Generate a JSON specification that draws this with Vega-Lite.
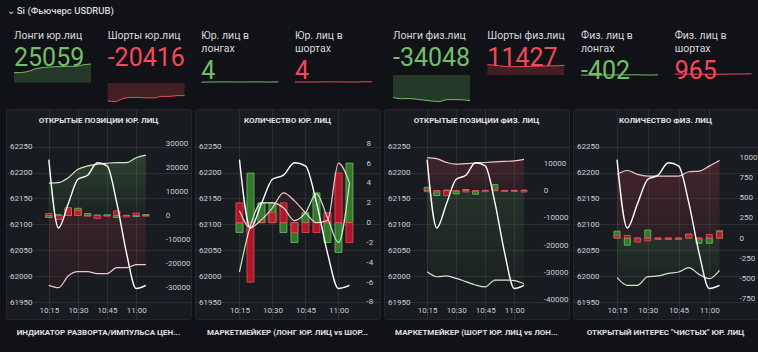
{
"$schema": "https://vega.github.io/schema/vega-lite/v6.json",
"background": "#111217",
"padding": {"left": 5, "top": 6, "right": 1, "bottom": 0},
"title": {"text": "⌄ Si (Фьючерс USDRUB)", "anchor": "start", "dx": 1, "offset": 15.7, "font": "Roboto", "fontSize": 9.5, "fontWeight": 500, "color": "#d8d9da"},
"datasets": {
"p1": [
{"t":15,"price":62225,"L":13400,"S":-29030,"dL":-800,"dS":800},
{"t":20,"price":62093,"L":13650,"S":-30000,"dL":300,"dS":-1600},
{"t":25,"price":62140,"L":15700,"S":-25150,"dL":3000,"dS":3300},
{"t":30,"price":62187,"L":19200,"S":-23350,"dL":3000,"dS":2100},
{"t":35,"price":62195,"L":20600,"S":-23350,"dL":800,"dS":-300},
{"t":40,"price":62219,"L":21300,"S":-24180,"dL":200,"dS":-1200},
{"t":45,"price":62213,"L":21700,"S":-24180,"dL":300,"dS":-300},
{"t":50,"price":62142,"L":22000,"S":-21700,"dL":-800,"dS":1900},
{"t":55,"price":62045,"L":22000,"S":-21700,"dL":100,"dS":-600},
{"t":60,"price":61976,"L":24000,"S":-20440,"dL":-400,"dS":1000},
{"t":65,"price":61982,"L":25059,"S":-20416,"dL":400,"dS":-300}
],
"p2": [
{"t":15,"price":62225,"G":-5,"P":1.2,"dG":-1,"dR":2},
{"t":20,"price":62093,"G":-0.3,"P":-0.5,"dG":5,"dR":-6},
{"t":25,"price":62140,"G":2,"P":0.3,"dG":2,"dR":0},
{"t":30,"price":62187,"G":2,"P":1.5,"dG":2,"dR":1},
{"t":35,"price":62195,"G":1.5,"P":3,"dG":-1,"dR":2},
{"t":40,"price":62219,"G":0.2,"P":2.2,"dG":-2,"dR":-1},
{"t":45,"price":62213,"G":1,"P":1,"dG":1,"dR":-1},
{"t":50,"price":62142,"G":2.9,"P":0,"dG":3,"dR":-1},
{"t":55,"price":62045,"G":0.5,"P":0.2,"dG":-2,"dR":1},
{"t":60,"price":61976,"G":-2,"P":6,"dG":-3,"dR":5},
{"t":65,"price":61982,"G":4,"P":4,"dG":6,"dR":-2}
],
"p3": [
{"t":15,"price":62225,"S":12100,"L":-29700,"dG":1200,"dR":-400},
{"t":20,"price":62093,"S":11700,"L":-31500,"dG":-1800,"dR":-500},
{"t":25,"price":62140,"S":10300,"L":-31200,"dG":200,"dR":-1800},
{"t":30,"price":62187,"S":9700,"L":-32100,"dG":-1200,"dR":-300},
{"t":35,"price":62195,"S":9900,"L":-33300,"dG":400,"dR":-500},
{"t":40,"price":62219,"S":10100,"L":-34500,"dG":-1300,"dR":-300},
{"t":45,"price":62213,"S":10300,"L":-35200,"dG":100,"dR":-400},
{"t":50,"price":62142,"S":10500,"L":-32700,"dG":2200,"dR":200},
{"t":55,"price":62045,"S":10700,"L":-32700,"dG":100,"dR":-300},
{"t":60,"price":61976,"S":10900,"L":-32900,"dG":100,"dR":-300},
{"t":65,"price":61982,"S":11427,"L":-34048,"dG":200,"dR":-500}
],
"p4": [
{"t":15,"price":62225,"S":792,"G":-493,"dG":85,"dR":35},
{"t":20,"price":62093,"S":841,"G":-588,"dG":-90,"dR":33},
{"t":25,"price":62140,"S":792,"G":-588,"dG":-15,"dR":-50},
{"t":30,"price":62187,"S":771,"G":-481,"dG":100,"dR":-35},
{"t":35,"price":62195,"S":771,"G":-472,"dG":-15,"dR":-15},
{"t":40,"price":62219,"S":771,"G":-439,"dG":-15,"dR":-15},
{"t":45,"price":62213,"S":771,"G":-423,"dG":-15,"dR":-15},
{"t":50,"price":62142,"S":825,"G":-369,"dG":50,"dR":45},
{"t":55,"price":62045,"S":833,"G":-452,"dG":-65,"dR":-15},
{"t":60,"price":61976,"S":895,"G":-506,"dG":-65,"dR":45},
{"t":65,"price":61982,"S":965,"G":-402,"dG":90,"dR":80}
]
},
"spacing": 4,
"vconcat": [
{"hconcat": [
  {"width": 85, "height": 42, "view": {"fill": null, "stroke": null}, "data": {"name": "p1"},
   "title": {"text": "Лонги юр.лиц", "subtitle": "25059", "subtitleColor": "#73BF69", "dx": 8, "offset": -10.6, "anchor": "start", "frame": "group", "font": "Roboto", "fontSize": 10.5, "fontWeight": "normal", "color": "#d8d9da", "subtitleFont": "Roboto", "subtitleFontSize": 25, "subtitleFontWeight": "normal", "subtitlePadding": 3.7, "lineHeight": 13, "limit": 400},
   "mark": {"type": "area", "interpolate": "monotone", "color": "#73BF69", "fillOpacity": 0.22, "line": {"color": "#73BF69", "strokeWidth": 1}},
   "encoding": {"x": {"field": "t", "type": "quantitative", "scale": {"domain": [9.805, 65], "nice": false, "zero": false}, "axis": null},
    "y": {"field": "L", "type": "quantitative", "scale": {"domain": [-25871, 30429], "nice": false, "zero": false}, "axis": null}, "y2": {"datum": 0}}},
  {"width": 77, "height": 42, "view": {"fill": null, "stroke": null}, "data": {"name": "p1"},
   "title": {"text": "Шорты юр.лиц", "subtitle": "-20416", "subtitleColor": "#F2495C", "offset": -10.6, "anchor": "start", "frame": "group", "font": "Roboto", "fontSize": 10.5, "fontWeight": "normal", "color": "#d8d9da", "subtitleFont": "Roboto", "subtitleFontSize": 25, "subtitleFontWeight": "normal", "subtitlePadding": 3.7, "lineHeight": 13, "limit": 400},
   "mark": {"type": "area", "interpolate": "monotone", "color": "#F2495C", "fillOpacity": 0.22, "line": {"color": "#F2495C", "strokeWidth": 1}},
   "encoding": {"x": {"field": "t", "type": "quantitative", "scale": {"domain": [15, 65], "nice": false, "zero": false}, "axis": null},
    "y": {"field": "S", "type": "quantitative", "scale": {"domain": [-30794, 37277], "nice": false, "zero": false}, "axis": null}, "y2": {"datum": 0}}},
  {"width": 77, "height": 42, "view": {"fill": null, "stroke": null}, "data": {"name": "p2"},
   "title": {"text": ["Юр. лиц в", "лонгах"], "subtitle": "4", "subtitleColor": "#73BF69", "offset": -23.6, "anchor": "start", "frame": "group", "font": "Roboto", "fontSize": 10.5, "fontWeight": "normal", "color": "#d8d9da", "subtitleFont": "Roboto", "subtitleFontSize": 25, "subtitleFontWeight": "normal", "subtitlePadding": 3.7, "lineHeight": 13, "limit": 400},
   "mark": {"type": "line", "interpolate": "monotone", "color": "#73BF69", "strokeWidth": 1},
   "encoding": {"x": {"field": "t", "type": "quantitative", "scale": {"domain": [15, 65], "nice": false, "zero": false}, "axis": null},
    "y": {"field": "G", "type": "quantitative", "scale": {"domain": [-500, 550], "nice": false, "zero": false}, "axis": null}}},
  {"width": 77, "height": 42, "view": {"fill": null, "stroke": null}, "data": {"name": "p2"},
   "title": {"text": ["Юр. лиц в", "шортах"], "subtitle": "4", "subtitleColor": "#F2495C", "offset": -23.6, "anchor": "start", "frame": "group", "font": "Roboto", "fontSize": 10.5, "fontWeight": "normal", "color": "#d8d9da", "subtitleFont": "Roboto", "subtitleFontSize": 25, "subtitleFontWeight": "normal", "subtitlePadding": 3.7, "lineHeight": 13, "limit": 400},
   "mark": {"type": "line", "interpolate": "monotone", "color": "#F2495C", "strokeWidth": 1},
   "encoding": {"x": {"field": "t", "type": "quantitative", "scale": {"domain": [15, 65], "nice": false, "zero": false}, "axis": null},
    "y": {"field": "P", "type": "quantitative", "scale": {"domain": [-500, 550], "nice": false, "zero": false}, "axis": null}}},
  {"width": 81.33, "height": 42, "view": {"fill": null, "stroke": null}, "data": {"name": "p3"},
   "title": {"text": "Лонги физ.лиц", "subtitle": "-34048", "subtitleColor": "#73BF69", "dx": 4.33, "offset": -10.6, "anchor": "start", "frame": "group", "font": "Roboto", "fontSize": 10.5, "fontWeight": "normal", "color": "#d8d9da", "subtitleFont": "Roboto", "subtitleFontSize": 25, "subtitleFontWeight": "normal", "subtitlePadding": 3.7, "lineHeight": 13, "limit": 400},
   "mark": {"type": "area", "interpolate": "monotone", "color": "#73BF69", "fillOpacity": 0.22, "line": {"color": "#73BF69", "strokeWidth": 1}},
   "encoding": {"x": {"field": "t", "type": "quantitative", "scale": {"domain": [12.19, 65], "nice": false, "zero": false}, "axis": null},
    "y": {"field": "L", "type": "quantitative", "scale": {"domain": [-35857, 19920], "nice": false, "zero": false}, "axis": null}, "y2": {"datum": 0}}},
  {"width": 77, "height": 42, "view": {"fill": null, "stroke": null}, "data": {"name": "p3"},
   "title": {"text": "Шорты физ.лиц", "subtitle": "11427", "subtitleColor": "#F2495C", "offset": -10.6, "anchor": "start", "frame": "group", "font": "Roboto", "fontSize": 10.5, "fontWeight": "normal", "color": "#d8d9da", "subtitleFont": "Roboto", "subtitleFontSize": 25, "subtitleFontWeight": "normal", "subtitlePadding": 3.7, "lineHeight": 13, "limit": 400},
   "mark": {"type": "area", "interpolate": "monotone", "color": "#F2495C", "fillOpacity": 0.22, "line": {"color": "#F2495C", "strokeWidth": 1}},
   "encoding": {"x": {"field": "t", "type": "quantitative", "scale": {"domain": [15, 65], "nice": false, "zero": false}, "axis": null},
    "y": {"field": "S", "type": "quantitative", "scale": {"domain": [-31802, 17668], "nice": false, "zero": false}, "axis": null}, "y2": {"datum": 0}}},
  {"width": 77, "height": 42, "view": {"fill": null, "stroke": null}, "data": {"name": "p4"},
   "title": {"text": ["Физ. лиц в", "лонгах"], "subtitle": "-402", "subtitleColor": "#73BF69", "offset": -23.6, "anchor": "start", "frame": "group", "font": "Roboto", "fontSize": 10.5, "fontWeight": "normal", "color": "#d8d9da", "subtitleFont": "Roboto", "subtitleFontSize": 25, "subtitleFontWeight": "normal", "subtitlePadding": 3.7, "lineHeight": 13, "limit": 400},
   "mark": {"type": "line", "interpolate": "monotone", "color": "#73BF69", "strokeWidth": 1},
   "encoding": {"x": {"field": "t", "type": "quantitative", "scale": {"domain": [15, 65], "nice": false, "zero": false}, "axis": null},
    "y": {"field": "G", "type": "quantitative", "scale": {"domain": [-13980, 7020], "nice": false, "zero": false}, "axis": null}}},
  {"width": 77, "height": 42, "view": {"fill": null, "stroke": null}, "data": {"name": "p4"},
   "title": {"text": ["Физ. лиц в", "шортах"], "subtitle": "965", "subtitleColor": "#F2495C", "offset": -23.6, "anchor": "start", "frame": "group", "font": "Roboto", "fontSize": 10.5, "fontWeight": "normal", "color": "#d8d9da", "subtitleFont": "Roboto", "subtitleFontSize": 25, "subtitleFontWeight": "normal", "subtitlePadding": 3.7, "lineHeight": 13, "limit": 400},
   "mark": {"type": "line", "interpolate": "monotone", "color": "#F2495C", "strokeWidth": 1},
   "encoding": {"x": {"field": "t", "type": "quantitative", "scale": {"domain": [15, 65], "nice": false, "zero": false}, "axis": null},
    "y": {"field": "S", "type": "quantitative", "scale": {"domain": [-13140, 7860], "nice": false, "zero": false}, "axis": null}}}
], "spacing": 16.67, "bounds": "flush"},
{"hconcat": [
 {"width": 185, "height": 210, "data": {"name": "p1"},
  "title": {"text": "ОТКРЫТЫЕ ПОЗИЦИИ ЮР. ЛИЦ", "anchor": "middle", "frame": "group", "offset": -15.5, "font": "Roboto", "fontSize": 8, "fontWeight": "bold", "color": "#e0e0e0", "limit": 400},
  "resolve": {"scale": {"y": "independent"}},
  "layer": [
   {"layer": [
    {"mark": {"type": "area", "interpolate": "monotone", "color": {"gradient": "linear", "x1": 0, "x2": 0, "y1": 0, "y2": 1, "stops": [{"offset": 0, "color": "rgba(115,191,105,0.24)"}, {"offset": 1, "color": "rgba(115,191,105,0.04)"}]}},
     "encoding": {"x": {"field": "t", "type": "quantitative", "scale": {"domain": [-4.5, 85.69], "nice": false, "zero": false}, "axis": {"orient": "bottom", "offset": -12.5, "values": [15, 30, 45, 60], "labelExpr": "datum.value == 60 ? '11:00' : '10:' + datum.value", "labelBaseline": "top", "grid": true, "gridColor": "#ccccdc", "gridOpacity": 0.1, "title": null}},
      "y": {"field": "L", "type": "quantitative", "scale": {"domain": [-43006, 44252], "nice": false, "zero": false}, "axis": {"orient": "right", "offset": -25.7, "values": [-30000, -20000, -10000, 0, 10000, 20000, 30000], "labelExpr": "'' + datum.value", "labelAlign": "left", "grid": false, "title": null}}, "y2": {"datum": 0}}},
    {"mark": {"type": "area", "interpolate": "monotone", "color": {"gradient": "linear", "x1": 0, "x2": 0, "y1": 0, "y2": 1, "stops": [{"offset": 0, "color": "rgba(242,73,92,0.14)"}, {"offset": 1, "color": "rgba(242,73,92,0.05)"}]}},
     "encoding": {"x": {"field": "t", "type": "quantitative", "scale": {"domain": [-4.5, 85.69], "nice": false, "zero": false}, "axis": {"orient": "bottom", "offset": -12.5, "values": [15, 30, 45, 60], "labelExpr": "datum.value == 60 ? '11:00' : '10:' + datum.value", "labelBaseline": "top", "grid": true, "gridColor": "#ccccdc", "gridOpacity": 0.1, "title": null}},
      "y": {"field": "S", "type": "quantitative", "scale": {"domain": [-43006, 44252], "nice": false, "zero": false}, "axis": {"orient": "right", "offset": -25.7, "values": [-30000, -20000, -10000, 0, 10000, 20000, 30000], "labelExpr": "'' + datum.value", "labelAlign": "left", "grid": false, "title": null}}, "y2": {"datum": 0}}},
    {"mark": {"type": "bar", "size": 6.5, "fill": "#37872D", "fillOpacity": 0.85, "stroke": "#73BF69", "strokeWidth": 0.8},
     "encoding": {"x": {"field": "t", "type": "quantitative", "scale": {"domain": [-4.5, 85.69], "nice": false, "zero": false}, "axis": {"orient": "bottom", "offset": -12.5, "values": [15, 30, 45, 60], "labelExpr": "datum.value == 60 ? '11:00' : '10:' + datum.value", "labelBaseline": "top", "grid": true, "gridColor": "#ccccdc", "gridOpacity": 0.1, "title": null}},
      "y": {"field": "dL", "type": "quantitative", "scale": {"domain": [-43006, 44252], "nice": false, "zero": false}, "axis": {"orient": "right", "offset": -25.7, "values": [-30000, -20000, -10000, 0, 10000, 20000, 30000], "labelExpr": "'' + datum.value", "labelAlign": "left", "grid": false, "title": null}}, "y2": {"datum": 0}}},
    {"mark": {"type": "bar", "size": 6.5, "fill": "#C4162A", "fillOpacity": 0.85, "stroke": "#F2495C", "strokeWidth": 0.8},
     "encoding": {"x": {"field": "t", "type": "quantitative", "scale": {"domain": [-4.5, 85.69], "nice": false, "zero": false}, "axis": {"orient": "bottom", "offset": -12.5, "values": [15, 30, 45, 60], "labelExpr": "datum.value == 60 ? '11:00' : '10:' + datum.value", "labelBaseline": "top", "grid": true, "gridColor": "#ccccdc", "gridOpacity": 0.1, "title": null}},
      "y": {"field": "dS", "type": "quantitative", "scale": {"domain": [-43006, 44252], "nice": false, "zero": false}, "axis": {"orient": "right", "offset": -25.7, "values": [-30000, -20000, -10000, 0, 10000, 20000, 30000], "labelExpr": "'' + datum.value", "labelAlign": "left", "grid": false, "title": null}}, "y2": {"datum": 0}}},
    {"mark": {"type": "line", "interpolate": "monotone", "color": "#cfe9c9", "strokeWidth": 1.2},
     "encoding": {"x": {"field": "t", "type": "quantitative", "scale": {"domain": [-4.5, 85.69], "nice": false, "zero": false}, "axis": {"orient": "bottom", "offset": -12.5, "values": [15, 30, 45, 60], "labelExpr": "datum.value == 60 ? '11:00' : '10:' + datum.value", "labelBaseline": "top", "grid": true, "gridColor": "#ccccdc", "gridOpacity": 0.1, "title": null}},
      "y": {"field": "L", "type": "quantitative", "scale": {"domain": [-43006, 44252], "nice": false, "zero": false}, "axis": {"orient": "right", "offset": -25.7, "values": [-30000, -20000, -10000, 0, 10000, 20000, 30000], "labelExpr": "'' + datum.value", "labelAlign": "left", "grid": false, "title": null}}}},
    {"mark": {"type": "line", "interpolate": "monotone", "color": "#f3c6cd", "strokeWidth": 1.2},
     "encoding": {"x": {"field": "t", "type": "quantitative", "scale": {"domain": [-4.5, 85.69], "nice": false, "zero": false}, "axis": {"orient": "bottom", "offset": -12.5, "values": [15, 30, 45, 60], "labelExpr": "datum.value == 60 ? '11:00' : '10:' + datum.value", "labelBaseline": "top", "grid": true, "gridColor": "#ccccdc", "gridOpacity": 0.1, "title": null}},
      "y": {"field": "S", "type": "quantitative", "scale": {"domain": [-43006, 44252], "nice": false, "zero": false}, "axis": {"orient": "right", "offset": -25.7, "values": [-30000, -20000, -10000, 0, 10000, 20000, 30000], "labelExpr": "'' + datum.value", "labelAlign": "left", "grid": false, "title": null}}}}
   ]},
   {"mark": {"type": "line", "interpolate": "monotone", "color": "#ffffff", "strokeWidth": 1.4},
    "encoding": {"x": {"field": "t", "type": "quantitative", "scale": {"domain": [-4.5, 85.69], "nice": false, "zero": false}, "axis": {"orient": "bottom", "offset": -12.5, "values": [15, 30, 45, 60], "labelExpr": "datum.value == 60 ? '11:00' : '10:' + datum.value", "labelBaseline": "top", "grid": true, "gridColor": "#ccccdc", "gridOpacity": 0.1, "title": null}},
     "y": {"field": "price", "type": "quantitative", "scale": {"domain": [61917.2, 62322.8], "nice": false, "zero": false}, "axis": {"orient": "left", "offset": -26, "values": [61950, 62000, 62050, 62100, 62150, 62200, 62250], "labelExpr": "'' + datum.value", "labelAlign": "right", "grid": true, "gridColor": "#ccccdc", "gridOpacity": 0.1, "title": null}}}}
  ]},
 {"width": 185, "height": 210, "data": {"name": "p2"},
  "title": {"text": "КОЛИЧЕСТВО ЮР. ЛИЦ", "anchor": "middle", "frame": "group", "offset": -15.5, "font": "Roboto", "fontSize": 8, "fontWeight": "bold", "color": "#e0e0e0", "limit": 400},
  "resolve": {"scale": {"y": "independent"}},
  "layer": [
   {"layer": [
    {"mark": {"type": "area", "interpolate": "monotone", "color": "#73BF69", "fillOpacity": 0.07},
     "encoding": {"x": {"field": "t", "type": "quantitative", "scale": {"domain": [-2.93, 76.6], "nice": false, "zero": false}, "axis": {"orient": "bottom", "offset": -12.5, "values": [15, 30, 45, 60], "labelExpr": "datum.value == 60 ? '11:00' : '10:' + datum.value", "labelBaseline": "top", "grid": true, "gridColor": "#ccccdc", "gridOpacity": 0.1, "title": null}},
      "y": {"field": "G", "type": "quantitative", "scale": {"domain": [-9.714, 11.458], "nice": false, "zero": false}, "axis": {"orient": "right", "offset": -14, "values": [-8, -6, -4, -2, 0, 2, 4, 6, 8], "labelExpr": "'' + datum.value", "labelAlign": "left", "grid": false, "title": null}}, "y2": {"datum": 0}}},
    {"mark": {"type": "area", "interpolate": "monotone", "color": "#F2495C", "fillOpacity": 0.09},
     "encoding": {"x": {"field": "t", "type": "quantitative", "scale": {"domain": [-2.93, 76.6], "nice": false, "zero": false}, "axis": {"orient": "bottom", "offset": -12.5, "values": [15, 30, 45, 60], "labelExpr": "datum.value == 60 ? '11:00' : '10:' + datum.value", "labelBaseline": "top", "grid": true, "gridColor": "#ccccdc", "gridOpacity": 0.1, "title": null}},
      "y": {"field": "P", "type": "quantitative", "scale": {"domain": [-9.714, 11.458], "nice": false, "zero": false}, "axis": {"orient": "right", "offset": -14, "values": [-8, -6, -4, -2, 0, 2, 4, 6, 8], "labelExpr": "'' + datum.value", "labelAlign": "left", "grid": false, "title": null}}, "y2": {"datum": 0}}},
    {"mark": {"type": "bar", "size": 7, "fill": "#37872D", "fillOpacity": 0.85, "stroke": "#73BF69", "strokeWidth": 0.8},
     "encoding": {"x": {"field": "t", "type": "quantitative", "scale": {"domain": [-2.93, 76.6], "nice": false, "zero": false}, "axis": {"orient": "bottom", "offset": -12.5, "values": [15, 30, 45, 60], "labelExpr": "datum.value == 60 ? '11:00' : '10:' + datum.value", "labelBaseline": "top", "grid": true, "gridColor": "#ccccdc", "gridOpacity": 0.1, "title": null}},
      "y": {"field": "dG", "type": "quantitative", "scale": {"domain": [-9.714, 11.458], "nice": false, "zero": false}, "axis": {"orient": "right", "offset": -14, "values": [-8, -6, -4, -2, 0, 2, 4, 6, 8], "labelExpr": "'' + datum.value", "labelAlign": "left", "grid": false, "title": null}}, "y2": {"datum": 0}}},
    {"mark": {"type": "bar", "size": 7, "fill": "#C4162A", "fillOpacity": 0.85, "stroke": "#F2495C", "strokeWidth": 0.8},
     "encoding": {"x": {"field": "t", "type": "quantitative", "scale": {"domain": [-2.93, 76.6], "nice": false, "zero": false}, "axis": {"orient": "bottom", "offset": -12.5, "values": [15, 30, 45, 60], "labelExpr": "datum.value == 60 ? '11:00' : '10:' + datum.value", "labelBaseline": "top", "grid": true, "gridColor": "#ccccdc", "gridOpacity": 0.1, "title": null}},
      "y": {"field": "dR", "type": "quantitative", "scale": {"domain": [-9.714, 11.458], "nice": false, "zero": false}, "axis": {"orient": "right", "offset": -14, "values": [-8, -6, -4, -2, 0, 2, 4, 6, 8], "labelExpr": "'' + datum.value", "labelAlign": "left", "grid": false, "title": null}}, "y2": {"datum": 0}}},
    {"mark": {"type": "line", "interpolate": "monotone", "color": "#cfe9c9", "strokeWidth": 1.2},
     "encoding": {"x": {"field": "t", "type": "quantitative", "scale": {"domain": [-2.93, 76.6], "nice": false, "zero": false}, "axis": {"orient": "bottom", "offset": -12.5, "values": [15, 30, 45, 60], "labelExpr": "datum.value == 60 ? '11:00' : '10:' + datum.value", "labelBaseline": "top", "grid": true, "gridColor": "#ccccdc", "gridOpacity": 0.1, "title": null}},
      "y": {"field": "G", "type": "quantitative", "scale": {"domain": [-9.714, 11.458], "nice": false, "zero": false}, "axis": {"orient": "right", "offset": -14, "values": [-8, -6, -4, -2, 0, 2, 4, 6, 8], "labelExpr": "'' + datum.value", "labelAlign": "left", "grid": false, "title": null}}}},
    {"mark": {"type": "line", "interpolate": "monotone", "color": "#f3c6cd", "strokeWidth": 1.2},
     "encoding": {"x": {"field": "t", "type": "quantitative", "scale": {"domain": [-2.93, 76.6], "nice": false, "zero": false}, "axis": {"orient": "bottom", "offset": -12.5, "values": [15, 30, 45, 60], "labelExpr": "datum.value == 60 ? '11:00' : '10:' + datum.value", "labelBaseline": "top", "grid": true, "gridColor": "#ccccdc", "gridOpacity": 0.1, "title": null}},
      "y": {"field": "P", "type": "quantitative", "scale": {"domain": [-9.714, 11.458], "nice": false, "zero": false}, "axis": {"orient": "right", "offset": -14, "values": [-8, -6, -4, -2, 0, 2, 4, 6, 8], "labelExpr": "'' + datum.value", "labelAlign": "left", "grid": false, "title": null}}}}
   ]},
   {"mark": {"type": "line", "interpolate": "monotone", "color": "#ffffff", "strokeWidth": 1.4},
    "encoding": {"x": {"field": "t", "type": "quantitative", "scale": {"domain": [-2.93, 76.6], "nice": false, "zero": false}, "axis": {"orient": "bottom", "offset": -12.5, "values": [15, 30, 45, 60], "labelExpr": "datum.value == 60 ? '11:00' : '10:' + datum.value", "labelBaseline": "top", "grid": true, "gridColor": "#ccccdc", "gridOpacity": 0.1, "title": null}},
     "y": {"field": "price", "type": "quantitative", "scale": {"domain": [61917.2, 62322.8], "nice": false, "zero": false}, "axis": {"orient": "left", "offset": -26, "values": [61950, 62000, 62050, 62100, 62150, 62200, 62250], "labelExpr": "'' + datum.value", "labelAlign": "right", "grid": true, "gridColor": "#ccccdc", "gridOpacity": 0.1, "title": null}}}}
  ]},
 {"width": 185, "height": 210, "data": {"name": "p3"},
  "title": {"text": "ОТКРЫТЫЕ ПОЗИЦИИ ФИЗ. ЛИЦ", "anchor": "middle", "frame": "group", "offset": -15.5, "font": "Roboto", "fontSize": 8, "fontWeight": "bold", "color": "#e0e0e0", "limit": 400},
  "resolve": {"scale": {"y": "independent"}},
  "layer": [
   {"layer": [
    {"mark": {"type": "area", "interpolate": "monotone", "color": {"gradient": "linear", "x1": 0, "x2": 0, "y1": 0, "y2": 1, "stops": [{"offset": 0, "color": "rgba(242,73,92,0.2)"}, {"offset": 1, "color": "rgba(242,73,92,0.08)"}]}},
     "encoding": {"x": {"field": "t", "type": "quantitative", "scale": {"domain": [-4.68, 85.65], "nice": false, "zero": false}, "axis": {"orient": "bottom", "offset": -12.5, "values": [15, 30, 45, 60], "labelExpr": "datum.value == 60 ? '11:00' : '10:' + datum.value", "labelBaseline": "top", "grid": true, "gridColor": "#ccccdc", "gridOpacity": 0.1, "title": null}},
      "y": {"field": "S", "type": "quantitative", "scale": {"domain": [-46950, 29861], "nice": false, "zero": false}, "axis": {"orient": "right", "offset": -25.7, "values": [-40000, -30000, -20000, -10000, 0, 10000], "labelExpr": "'' + datum.value", "labelAlign": "left", "grid": false, "title": null}}, "y2": {"datum": 0}}},
    {"mark": {"type": "area", "interpolate": "monotone", "color": {"gradient": "linear", "x1": 0, "x2": 0, "y1": 0, "y2": 1, "stops": [{"offset": 0, "color": "rgba(115,191,105,0.14)"}, {"offset": 1, "color": "rgba(115,191,105,0.03)"}]}},
     "encoding": {"x": {"field": "t", "type": "quantitative", "scale": {"domain": [-4.68, 85.65], "nice": false, "zero": false}, "axis": {"orient": "bottom", "offset": -12.5, "values": [15, 30, 45, 60], "labelExpr": "datum.value == 60 ? '11:00' : '10:' + datum.value", "labelBaseline": "top", "grid": true, "gridColor": "#ccccdc", "gridOpacity": 0.1, "title": null}},
      "y": {"field": "L", "type": "quantitative", "scale": {"domain": [-46950, 29861], "nice": false, "zero": false}, "axis": {"orient": "right", "offset": -25.7, "values": [-40000, -30000, -20000, -10000, 0, 10000], "labelExpr": "'' + datum.value", "labelAlign": "left", "grid": false, "title": null}}, "y2": {"datum": 0}}},
    {"mark": {"type": "bar", "size": 6, "fill": "#37872D", "fillOpacity": 0.85, "stroke": "#73BF69", "strokeWidth": 0.8},
     "encoding": {"x": {"field": "t", "type": "quantitative", "scale": {"domain": [-4.68, 85.65], "nice": false, "zero": false}, "axis": {"orient": "bottom", "offset": -12.5, "values": [15, 30, 45, 60], "labelExpr": "datum.value == 60 ? '11:00' : '10:' + datum.value", "labelBaseline": "top", "grid": true, "gridColor": "#ccccdc", "gridOpacity": 0.1, "title": null}},
      "y": {"field": "dG", "type": "quantitative", "scale": {"domain": [-46950, 29861], "nice": false, "zero": false}, "axis": {"orient": "right", "offset": -25.7, "values": [-40000, -30000, -20000, -10000, 0, 10000], "labelExpr": "'' + datum.value", "labelAlign": "left", "grid": false, "title": null}}, "y2": {"datum": 0}}},
    {"mark": {"type": "bar", "size": 6, "fill": "#C4162A", "fillOpacity": 0.85, "stroke": "#F2495C", "strokeWidth": 0.8},
     "encoding": {"x": {"field": "t", "type": "quantitative", "scale": {"domain": [-4.68, 85.65], "nice": false, "zero": false}, "axis": {"orient": "bottom", "offset": -12.5, "values": [15, 30, 45, 60], "labelExpr": "datum.value == 60 ? '11:00' : '10:' + datum.value", "labelBaseline": "top", "grid": true, "gridColor": "#ccccdc", "gridOpacity": 0.1, "title": null}},
      "y": {"field": "dR", "type": "quantitative", "scale": {"domain": [-46950, 29861], "nice": false, "zero": false}, "axis": {"orient": "right", "offset": -25.7, "values": [-40000, -30000, -20000, -10000, 0, 10000], "labelExpr": "'' + datum.value", "labelAlign": "left", "grid": false, "title": null}}, "y2": {"datum": 0}}},
    {"mark": {"type": "line", "interpolate": "monotone", "color": "#f3c6cd", "strokeWidth": 1.2},
     "encoding": {"x": {"field": "t", "type": "quantitative", "scale": {"domain": [-4.68, 85.65], "nice": false, "zero": false}, "axis": {"orient": "bottom", "offset": -12.5, "values": [15, 30, 45, 60], "labelExpr": "datum.value == 60 ? '11:00' : '10:' + datum.value", "labelBaseline": "top", "grid": true, "gridColor": "#ccccdc", "gridOpacity": 0.1, "title": null}},
      "y": {"field": "S", "type": "quantitative", "scale": {"domain": [-46950, 29861], "nice": false, "zero": false}, "axis": {"orient": "right", "offset": -25.7, "values": [-40000, -30000, -20000, -10000, 0, 10000], "labelExpr": "'' + datum.value", "labelAlign": "left", "grid": false, "title": null}}}},
    {"mark": {"type": "line", "interpolate": "monotone", "color": "#cfe9c9", "strokeWidth": 1.2},
     "encoding": {"x": {"field": "t", "type": "quantitative", "scale": {"domain": [-4.68, 85.65], "nice": false, "zero": false}, "axis": {"orient": "bottom", "offset": -12.5, "values": [15, 30, 45, 60], "labelExpr": "datum.value == 60 ? '11:00' : '10:' + datum.value", "labelBaseline": "top", "grid": true, "gridColor": "#ccccdc", "gridOpacity": 0.1, "title": null}},
      "y": {"field": "L", "type": "quantitative", "scale": {"domain": [-46950, 29861], "nice": false, "zero": false}, "axis": {"orient": "right", "offset": -25.7, "values": [-40000, -30000, -20000, -10000, 0, 10000], "labelExpr": "'' + datum.value", "labelAlign": "left", "grid": false, "title": null}}}}
   ]},
   {"mark": {"type": "line", "interpolate": "monotone", "color": "#ffffff", "strokeWidth": 1.4},
    "encoding": {"x": {"field": "t", "type": "quantitative", "scale": {"domain": [-4.68, 85.65], "nice": false, "zero": false}, "axis": {"orient": "bottom", "offset": -12.5, "values": [15, 30, 45, 60], "labelExpr": "datum.value == 60 ? '11:00' : '10:' + datum.value", "labelBaseline": "top", "grid": true, "gridColor": "#ccccdc", "gridOpacity": 0.1, "title": null}},
     "y": {"field": "price", "type": "quantitative", "scale": {"domain": [61917.2, 62322.8], "nice": false, "zero": false}, "axis": {"orient": "left", "offset": -26, "values": [61950, 62000, 62050, 62100, 62150, 62200, 62250], "labelExpr": "'' + datum.value", "labelAlign": "right", "grid": true, "gridColor": "#ccccdc", "gridOpacity": 0.1, "title": null}}}}
  ]},
 {"width": 185, "height": 210, "data": {"name": "p4"},
  "title": {"text": "КОЛИЧЕСТВО ФИЗ. ЛИЦ", "anchor": "middle", "frame": "group", "offset": -15.5, "font": "Roboto", "fontSize": 8, "fontWeight": "bold", "color": "#e0e0e0", "limit": 400},
  "resolve": {"scale": {"y": "independent"}},
  "layer": [
   {"layer": [
    {"mark": {"type": "area", "interpolate": "monotone", "color": {"gradient": "linear", "x1": 0, "x2": 0, "y1": 0, "y2": 1, "stops": [{"offset": 0, "color": "rgba(242,73,92,0.2)"}, {"offset": 1, "color": "rgba(242,73,92,0.08)"}]}},
     "encoding": {"x": {"field": "t", "type": "quantitative", "scale": {"domain": [-4.05, 81.33], "nice": false, "zero": false}, "axis": {"orient": "bottom", "offset": -12.5, "values": [15, 30, 45, 60], "labelExpr": "datum.value == 60 ? '11:00' : '10:' + datum.value", "labelBaseline": "top", "grid": true, "gridColor": "#ccccdc", "gridOpacity": 0.1, "title": null}},
      "y": {"field": "S", "type": "quantitative", "scale": {"domain": [-1007.6, 1606.2], "nice": false, "zero": false}, "axis": {"orient": "right", "offset": -19, "values": [-750, -500, -250, 0, 250, 500, 750, 1000], "labelExpr": "'' + datum.value", "labelAlign": "left", "grid": false, "title": null}}, "y2": {"datum": 0}}},
    {"mark": {"type": "area", "interpolate": "monotone", "color": {"gradient": "linear", "x1": 0, "x2": 0, "y1": 0, "y2": 1, "stops": [{"offset": 0, "color": "rgba(115,191,105,0.14)"}, {"offset": 1, "color": "rgba(115,191,105,0.04)"}]}},
     "encoding": {"x": {"field": "t", "type": "quantitative", "scale": {"domain": [-4.05, 81.33], "nice": false, "zero": false}, "axis": {"orient": "bottom", "offset": -12.5, "values": [15, 30, 45, 60], "labelExpr": "datum.value == 60 ? '11:00' : '10:' + datum.value", "labelBaseline": "top", "grid": true, "gridColor": "#ccccdc", "gridOpacity": 0.1, "title": null}},
      "y": {"field": "G", "type": "quantitative", "scale": {"domain": [-1007.6, 1606.2], "nice": false, "zero": false}, "axis": {"orient": "right", "offset": -19, "values": [-750, -500, -250, 0, 250, 500, 750, 1000], "labelExpr": "'' + datum.value", "labelAlign": "left", "grid": false, "title": null}}, "y2": {"datum": 0}}},
    {"mark": {"type": "bar", "size": 6, "fill": "#37872D", "fillOpacity": 0.85, "stroke": "#73BF69", "strokeWidth": 0.8},
     "encoding": {"x": {"field": "t", "type": "quantitative", "scale": {"domain": [-4.05, 81.33], "nice": false, "zero": false}, "axis": {"orient": "bottom", "offset": -12.5, "values": [15, 30, 45, 60], "labelExpr": "datum.value == 60 ? '11:00' : '10:' + datum.value", "labelBaseline": "top", "grid": true, "gridColor": "#ccccdc", "gridOpacity": 0.1, "title": null}},
      "y": {"field": "dG", "type": "quantitative", "scale": {"domain": [-1007.6, 1606.2], "nice": false, "zero": false}, "axis": {"orient": "right", "offset": -19, "values": [-750, -500, -250, 0, 250, 500, 750, 1000], "labelExpr": "'' + datum.value", "labelAlign": "left", "grid": false, "title": null}}, "y2": {"datum": 0}}},
    {"mark": {"type": "bar", "size": 6, "fill": "#C4162A", "fillOpacity": 0.85, "stroke": "#F2495C", "strokeWidth": 0.8},
     "encoding": {"x": {"field": "t", "type": "quantitative", "scale": {"domain": [-4.05, 81.33], "nice": false, "zero": false}, "axis": {"orient": "bottom", "offset": -12.5, "values": [15, 30, 45, 60], "labelExpr": "datum.value == 60 ? '11:00' : '10:' + datum.value", "labelBaseline": "top", "grid": true, "gridColor": "#ccccdc", "gridOpacity": 0.1, "title": null}},
      "y": {"field": "dR", "type": "quantitative", "scale": {"domain": [-1007.6, 1606.2], "nice": false, "zero": false}, "axis": {"orient": "right", "offset": -19, "values": [-750, -500, -250, 0, 250, 500, 750, 1000], "labelExpr": "'' + datum.value", "labelAlign": "left", "grid": false, "title": null}}, "y2": {"datum": 0}}},
    {"mark": {"type": "line", "interpolate": "monotone", "color": "#f3c6cd", "strokeWidth": 1.2},
     "encoding": {"x": {"field": "t", "type": "quantitative", "scale": {"domain": [-4.05, 81.33], "nice": false, "zero": false}, "axis": {"orient": "bottom", "offset": -12.5, "values": [15, 30, 45, 60], "labelExpr": "datum.value == 60 ? '11:00' : '10:' + datum.value", "labelBaseline": "top", "grid": true, "gridColor": "#ccccdc", "gridOpacity": 0.1, "title": null}},
      "y": {"field": "S", "type": "quantitative", "scale": {"domain": [-1007.6, 1606.2], "nice": false, "zero": false}, "axis": {"orient": "right", "offset": -19, "values": [-750, -500, -250, 0, 250, 500, 750, 1000], "labelExpr": "'' + datum.value", "labelAlign": "left", "grid": false, "title": null}}}},
    {"mark": {"type": "line", "interpolate": "monotone", "color": "#cfe9c9", "strokeWidth": 1.2},
     "encoding": {"x": {"field": "t", "type": "quantitative", "scale": {"domain": [-4.05, 81.33], "nice": false, "zero": false}, "axis": {"orient": "bottom", "offset": -12.5, "values": [15, 30, 45, 60], "labelExpr": "datum.value == 60 ? '11:00' : '10:' + datum.value", "labelBaseline": "top", "grid": true, "gridColor": "#ccccdc", "gridOpacity": 0.1, "title": null}},
      "y": {"field": "G", "type": "quantitative", "scale": {"domain": [-1007.6, 1606.2], "nice": false, "zero": false}, "axis": {"orient": "right", "offset": -19, "values": [-750, -500, -250, 0, 250, 500, 750, 1000], "labelExpr": "'' + datum.value", "labelAlign": "left", "grid": false, "title": null}}}}
   ]},
   {"mark": {"type": "line", "interpolate": "monotone", "color": "#ffffff", "strokeWidth": 1.4},
    "encoding": {"x": {"field": "t", "type": "quantitative", "scale": {"domain": [-4.05, 81.33], "nice": false, "zero": false}, "axis": {"orient": "bottom", "offset": -12.5, "values": [15, 30, 45, 60], "labelExpr": "datum.value == 60 ? '11:00' : '10:' + datum.value", "labelBaseline": "top", "grid": true, "gridColor": "#ccccdc", "gridOpacity": 0.1, "title": null}},
     "y": {"field": "price", "type": "quantitative", "scale": {"domain": [61917.2, 62322.8], "nice": false, "zero": false}, "axis": {"orient": "left", "offset": -26, "values": [61950, 62000, 62050, 62100, 62150, 62200, 62250], "labelExpr": "'' + datum.value", "labelAlign": "right", "grid": true, "gridColor": "#ccccdc", "gridOpacity": 0.1, "title": null}}}}
  ]}
], "spacing": 4, "bounds": "flush"},
{"hconcat": [
 {"width": 185, "height": 32, "data": {"values": []}, "mark": "point", "encoding": {},
  "title": {"text": "ИНДИКАТОР РАЗВОРТА/ИМПУЛЬСА ЦЕН...", "anchor": "middle", "frame": "group", "offset": -12.5, "font": "Roboto", "fontSize": 8, "fontWeight": "bold", "color": "#e0e0e0", "limit": 400}},
 {"width": 185, "height": 32, "data": {"values": []}, "mark": "point", "encoding": {},
  "title": {"text": "МАРКЕТМЕЙКЕР (ЛОНГ ЮР. ЛИЦ vs ШОР...", "anchor": "middle", "frame": "group", "offset": -12.5, "font": "Roboto", "fontSize": 8, "fontWeight": "bold", "color": "#e0e0e0", "limit": 400}},
 {"width": 185, "height": 32, "data": {"values": []}, "mark": "point", "encoding": {},
  "title": {"text": "МАРКЕТМЕЙКЕР (ШОРТ ЮР. ЛИЦ vs ЛОН...", "anchor": "middle", "frame": "group", "offset": -12.5, "font": "Roboto", "fontSize": 8, "fontWeight": "bold", "color": "#e0e0e0", "limit": 400}},
 {"width": 185, "height": 32, "data": {"values": []}, "mark": "point", "encoding": {},
  "title": {"text": "ОТКРЫТЫЙ ИНТЕРЕС \"ЧИСТЫХ\" ЮР. ЛИЦ", "anchor": "middle", "frame": "group", "offset": -12.5, "font": "Roboto", "fontSize": 8, "fontWeight": "bold", "color": "#e0e0e0", "limit": 400}}
], "spacing": 4, "bounds": "flush"}
],
"config": {
 "font": "Roboto",
 "view": {"fill": "#181b1f", "stroke": "#24262b", "strokeWidth": 1, "cornerRadius": 2},
 "axis": {"domain": false, "ticks": false, "tickSize": 0, "labelPadding": 0, "labelFont": "Roboto", "labelFontSize": 8, "labelColor": "#c7d0d9", "labelOverlap": false, "labelFlush": false, "minExtent": 0}
}
}
